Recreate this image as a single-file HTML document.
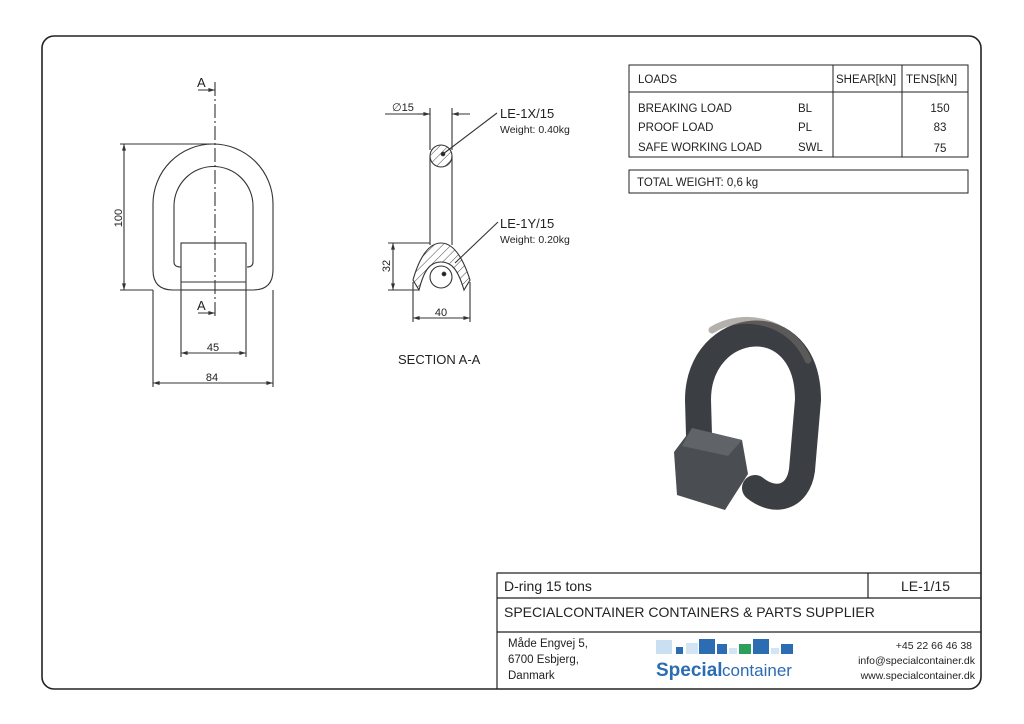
<!DOCTYPE html>
<html><head><meta charset="utf-8"><style>
html,body{margin:0;padding:0;background:#fff}
svg{display:block}
text{font-family:"Liberation Sans",Arial,sans-serif;fill:#222}
</style></head><body>
<svg width="1024" height="724" viewBox="0 0 1024 724" xmlns="http://www.w3.org/2000/svg">
<defs>
<pattern id="h" width="6" height="6" patternUnits="userSpaceOnUse" patternTransform="rotate(45)"><line x1="0" y1="0" x2="0" y2="6" stroke="#444" stroke-width="1"/></pattern>
<marker id="ar" viewBox="0 0 10 10" refX="10" refY="5" markerWidth="8" markerHeight="6" orient="auto-start-reverse"><path d="M0,2 L10,5 L0,8z" fill="#333"/></marker>
</defs>
<rect x="42" y="36" width="939" height="653" rx="12" fill="none" stroke="#222" stroke-width="1.6"/>

<!-- front view -->
<g fill="none" stroke="#333" stroke-width="1.1">
<line x1="215" y1="82" x2="215" y2="318" stroke-dasharray="14,3,2,3"/>
<path d="M153,270 V204 A60,60 0 0 1 273,204 V270 Q273,290 253,290 H173 Q153,290 153,270Z"/>
<path d="M174,262 V206 A39.5,39.5 0 0 1 253,206 V262 Q253,267 247,267 M174,262 Q174,267 181,267"/>
<rect x="181" y="243" width="65" height="47"/>
<line x1="181" y1="282" x2="246" y2="282"/>
<line x1="120" y1="144" x2="213" y2="144"/>
<line x1="120" y1="290" x2="153" y2="290"/>
<line x1="124" y1="144" x2="124" y2="290" marker-start="url(#ar)" marker-end="url(#ar)"/>
<line x1="181" y1="290" x2="181" y2="357"/><line x1="246" y1="290" x2="246" y2="357"/>
<line x1="181" y1="353" x2="246" y2="353" marker-start="url(#ar)" marker-end="url(#ar)"/>
<line x1="153" y1="290" x2="153" y2="387"/><line x1="273" y1="290" x2="273" y2="387"/>
<line x1="153" y1="383" x2="273" y2="383" marker-start="url(#ar)" marker-end="url(#ar)"/>
<line x1="198" y1="90" x2="215" y2="90" marker-end="url(#ar)"/>
<line x1="198" y1="313" x2="215" y2="313" marker-end="url(#ar)"/>
</g>
<text x="197" y="87" font-size="13">A</text>
<text x="197" y="310" font-size="13">A</text>
<text x="122" y="218" font-size="11" transform="rotate(-90 122 218)" text-anchor="middle">100</text>
<text x="213" y="351" font-size="11" text-anchor="middle">45</text>
<text x="212" y="381" font-size="11" text-anchor="middle">84</text>

<!-- section -->
<g fill="none" stroke="#333" stroke-width="1.1">
<line x1="430" y1="156" x2="430" y2="245"/><line x1="452" y1="156" x2="452" y2="245"/>
<circle cx="441" cy="156" r="11" fill="url(#h)"/>
<line x1="430" y1="108" x2="430" y2="150"/><line x1="452" y1="108" x2="452" y2="150"/>
<line x1="385" y1="114" x2="430" y2="114"/>
<line x1="418" y1="114" x2="430" y2="114" marker-end="url(#ar)"/>
<line x1="470" y1="114" x2="452" y2="114" marker-end="url(#ar)"/>
<path d="M413,280 C420,255 430,243 441,243 C452,243 462,255 470,280 L464,290 C458,270 452,262 441,262 C430,262 424,270 419,290Z" fill="url(#h)"/>
<circle cx="441" cy="277" r="11" fill="#fff"/>
<circle cx="444" cy="274" r="1.8" fill="#222"/>
<circle cx="443" cy="154" r="1.8" fill="#222"/>
<line x1="443" y1="154" x2="497" y2="113"/>
<line x1="455" y1="263" x2="498" y2="222"/>
<line x1="388" y1="243" x2="430" y2="243"/><line x1="388" y1="290" x2="419" y2="290"/>
<line x1="393" y1="243" x2="393" y2="290" marker-start="url(#ar)" marker-end="url(#ar)"/>
<line x1="413" y1="282" x2="413" y2="322"/><line x1="470" y1="282" x2="470" y2="322"/>
<line x1="413" y1="318" x2="470" y2="318" marker-start="url(#ar)" marker-end="url(#ar)"/>
</g>
<text x="392" y="111" font-size="11">∅15</text>
<text x="500" y="118" font-size="13">LE-1X/15</text>
<text x="500" y="133" font-size="10.5">Weight: 0.40kg</text>
<text x="500" y="228" font-size="13">LE-1Y/15</text>
<text x="500" y="243" font-size="10.5">Weight: 0.20kg</text>
<text x="390" y="266" font-size="11" transform="rotate(-90 390 266)" text-anchor="middle">32</text>
<text x="441" y="316" font-size="11" text-anchor="middle">40</text>
<text x="398" y="364" font-size="13">SECTION A-A</text>

<!-- table -->
<g fill="none" stroke="#222" stroke-width="1">
<rect x="629" y="65" width="339" height="92"/>
<line x1="629" y1="92" x2="968" y2="92"/>
<line x1="833" y1="65" x2="833" y2="157"/><line x1="902" y1="65" x2="902" y2="157"/>
<rect x="629" y="170" width="339" height="23"/>
</g>
<g font-size="11.5">
<text x="638" y="83">LOADS</text><text x="836" y="83">SHEAR[kN]</text><text x="906" y="83">TENS[kN]</text>
<text x="638" y="112">BREAKING LOAD</text><text x="798" y="112">BL</text><text x="940" y="112" text-anchor="middle">150</text>
<text x="638" y="131">PROOF LOAD</text><text x="798" y="131">PL</text><text x="940" y="131" text-anchor="middle">83</text>
<text x="638" y="151">SAFE WORKING LOAD</text><text x="798" y="151">SWL</text><text x="940" y="152" text-anchor="middle">75</text>
<text x="637" y="186">TOTAL WEIGHT:  0,6 kg</text>
</g>

<!-- photo -->
<g>
<path d="M700,470 L698,400 C698,318 808,305 808,400 L802,470 C798,498 775,504 755,488" fill="none" stroke="#3b3e43" stroke-width="26" stroke-linecap="round"/>
<path d="M712,330 C740,312 790,318 808,360" fill="none" stroke="#77716a" stroke-width="7" stroke-linecap="round" opacity="0.55"/>
<path d="M674,452 L692,428 L742,440 L748,474 L725,510 L677,495Z" fill="#4a4d52"/>
<path d="M692,428 L742,440 L728,456 L682,446Z" fill="#606368"/>
</g>

<!-- title block -->
<g fill="none" stroke="#222" stroke-width="1.2">
<path d="M497,689 V573 H981"/>
<line x1="497" y1="598" x2="981" y2="598"/>
<line x1="497" y1="632" x2="981" y2="632"/>
<line x1="868" y1="573" x2="868" y2="598"/>
</g>
<text x="504" y="591" font-size="14">D-ring 15 tons</text>
<text x="950" y="591" font-size="14" text-anchor="end">LE-1/15</text>
<text x="504" y="617" font-size="14">SPECIALCONTAINER CONTAINERS &amp; PARTS SUPPLIER</text>
<g font-size="11.5">
<text x="508" y="647">Måde Engvej 5,</text>
<text x="508" y="663">6700 Esbjerg,</text>
<text x="508" y="679">Danmark</text>
</g>
<g font-size="10.5" text-anchor="end">
<text x="972" y="649">+45 22 66 46 38</text>
<text x="975" y="664">info@specialcontainer.dk</text>
<text x="975" y="679">www.specialcontainer.dk</text>
</g>
<g>
<rect x="656" y="640" width="16" height="14" fill="#c9dff2"/>
<rect x="676" y="647" width="7" height="7" fill="#2b6cb3"/>
<rect x="686" y="643" width="12" height="11" fill="#d3e4f3"/>
<rect x="699" y="639" width="16" height="15" fill="#2b6cb3"/>
<rect x="717" y="644" width="10" height="10" fill="#2b6cb3"/>
<rect x="729" y="648" width="8" height="6" fill="#d3e4f3"/>
<rect x="739" y="644" width="12" height="10" fill="#2aa05a"/>
<rect x="753" y="639" width="16" height="15" fill="#2b6cb3"/>
<rect x="771" y="648" width="8" height="6" fill="#d3e4f3"/>
<rect x="781" y="644" width="12" height="10" fill="#2b6cb3"/>
</g>
<text x="656" y="676" font-size="19" font-weight="bold" style="fill:#2b6cb3">Special</text>
<text x="722" y="676" font-size="17" style="fill:#2b6cb3">container</text>
</svg>
</body></html>
